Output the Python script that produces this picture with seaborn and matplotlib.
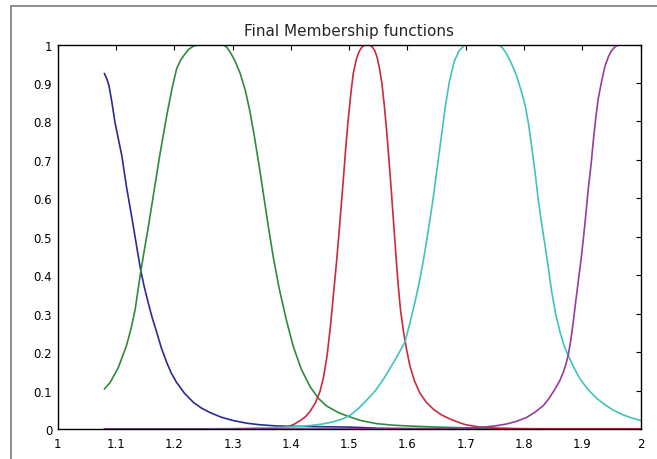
import pandas as pd
import seaborn as sns
from matplotlib import pyplot as plt
from matplotlib.patches import Rectangle

# membership function curves
mf1_x = [1.080, 1.084, 1.088, 1.093, 1.098, 1.104, 1.110, 1.118, 1.124, 1.130, 1.136, 1.142,
         1.148, 1.155, 1.162, 1.170, 1.178, 1.187, 1.195, 1.204, 1.218, 1.233, 1.247, 1.261,
         1.280, 1.301, 1.325, 1.347, 1.375, 1.400, 1.450, 1.500, 1.550, 1.600, 1.700, 1.800,
         1.900, 2.000]
mf1_y = [0.925, 0.912, 0.893, 0.850, 0.800, 0.755, 0.711, 0.630, 0.578, 0.525, 0.470, 0.416,
         0.373, 0.330, 0.290, 0.251, 0.210, 0.173, 0.145, 0.121, 0.092, 0.069, 0.054, 0.043,
         0.031, 0.022, 0.015, 0.011, 0.008, 0.007, 0.006, 0.005, 0.002, 0.001, 0.0, 0.0,
         0.0, 0.0]

mf2_x = [1.080, 1.090, 1.104, 1.118, 1.126, 1.133, 1.142, 1.148, 1.154, 1.164, 1.175, 1.187,
         1.196, 1.204, 1.211, 1.218, 1.225, 1.233, 1.242, 1.284, 1.290, 1.296, 1.304, 1.313,
         1.322, 1.330, 1.338, 1.346, 1.354, 1.362, 1.370, 1.380, 1.392, 1.404, 1.418, 1.433,
         1.447, 1.461, 1.480, 1.496, 1.520, 1.547, 1.575, 1.600, 1.650, 1.700, 1.800, 1.900,
         2.000]
mf2_y = [0.104, 0.121, 0.160, 0.217, 0.262, 0.312, 0.405, 0.460, 0.512, 0.607, 0.711, 0.815,
         0.885, 0.937, 0.960, 0.975, 0.988, 0.996, 1.000, 1.000, 0.993, 0.980, 0.958, 0.925,
         0.880, 0.824, 0.755, 0.680, 0.600, 0.520, 0.445, 0.365, 0.285, 0.215, 0.155, 0.110,
         0.080, 0.060, 0.044, 0.034, 0.022, 0.014, 0.010, 0.008, 0.005, 0.003, 0.001, 0.0,
         0.0]

mf3_x = [1.080, 1.200, 1.300, 1.380, 1.395, 1.405, 1.416, 1.425, 1.433, 1.442, 1.450, 1.456,
         1.462, 1.468, 1.473, 1.478, 1.482, 1.486, 1.490, 1.494, 1.498, 1.503, 1.507, 1.512,
         1.517, 1.522, 1.527, 1.533, 1.539, 1.544, 1.548, 1.552, 1.556, 1.560, 1.564, 1.568,
         1.572, 1.576, 1.580, 1.584, 1.588, 1.593, 1.598, 1.604, 1.612, 1.621, 1.632, 1.644,
         1.658, 1.673, 1.690, 1.700, 1.720, 1.750, 1.800, 1.900, 2.000]
mf3_y = [0.0, 0.0, 0.0, 0.002, 0.006, 0.012, 0.022, 0.032, 0.046, 0.068, 0.098, 0.135,
         0.190, 0.270, 0.350, 0.430, 0.500, 0.575, 0.650, 0.730, 0.800, 0.875, 0.925, 0.960,
         0.982, 0.994, 0.999, 1.000, 0.995, 0.984, 0.966, 0.938, 0.900, 0.845, 0.780, 0.705,
         0.625, 0.540, 0.455, 0.375, 0.310, 0.255, 0.210, 0.165, 0.125, 0.094, 0.070, 0.052,
         0.037, 0.026, 0.016, 0.011, 0.006, 0.002, 0.0, 0.0, 0.0]

mf4_x = [1.080, 1.200, 1.300, 1.380, 1.410, 1.433, 1.455, 1.473, 1.488, 1.501, 1.515, 1.530,
         1.545, 1.559, 1.570, 1.580, 1.588, 1.596, 1.604, 1.612, 1.620, 1.628, 1.636, 1.644,
         1.651, 1.658, 1.665, 1.672, 1.680, 1.688, 1.697, 1.706, 1.755, 1.762, 1.770, 1.778,
         1.787, 1.795, 1.802, 1.808, 1.813, 1.819, 1.824, 1.830, 1.836, 1.842, 1.847, 1.854,
         1.862, 1.869, 1.876, 1.886, 1.896, 1.910, 1.925, 1.940, 1.953, 1.968, 1.982, 2.000]
mf4_y = [0.0, 0.0, 0.001, 0.004, 0.006, 0.009, 0.013, 0.019, 0.026, 0.035, 0.052, 0.075,
         0.100, 0.130, 0.158, 0.183, 0.205, 0.228, 0.275, 0.325, 0.380, 0.445, 0.520, 0.600,
         0.680, 0.760, 0.840, 0.905, 0.955, 0.983, 0.997, 1.000, 1.000, 0.993, 0.976, 0.952,
         0.919, 0.880, 0.841, 0.790, 0.735, 0.665, 0.600, 0.535, 0.477, 0.415, 0.360, 0.300,
         0.250, 0.215, 0.190, 0.158, 0.130, 0.102, 0.079, 0.062, 0.049, 0.038, 0.030, 0.022]

mf5_x = [1.080, 1.300, 1.500, 1.600, 1.700, 1.730, 1.750, 1.770, 1.787, 1.804, 1.818, 1.833,
         1.843, 1.853, 1.861, 1.867, 1.872, 1.876, 1.880, 1.884, 1.888, 1.893, 1.898, 1.902,
         1.906, 1.910, 1.915, 1.919, 1.923, 1.927, 1.933, 1.939, 1.945, 1.950, 1.955, 1.960,
         1.966, 2.000]
mf5_y = [0.0, 0.0, 0.0, 0.001, 0.002, 0.005, 0.008, 0.013, 0.020, 0.030, 0.043, 0.061,
         0.080, 0.104, 0.125, 0.147, 0.170, 0.195, 0.230, 0.275, 0.325, 0.385, 0.445, 0.500,
         0.560, 0.624, 0.690, 0.754, 0.810, 0.858, 0.905, 0.945, 0.970, 0.984, 0.993, 0.998,
         1.000, 1.000]

x_ticks = [1, 1.1, 1.2, 1.3, 1.4, 1.5, 1.6, 1.7, 1.8, 1.9, 2]
x_labels = ['1', '1.1', '1.2', '1.3', '1.4', '1.5', '1.6', '1.7', '1.8', '1.9', '2']
y_ticks = [0, 0.1, 0.2, 0.3, 0.4, 0.5, 0.6, 0.7, 0.8, 0.9, 1]
y_labels = ['0', '0.1', '0.2', '0.3', '0.4', '0.5', '0.6', '0.7', '0.8', '0.9', '1']

curves = {'mf1': (mf1_x, mf1_y), 'mf2': (mf2_x, mf2_y), 'mf3': (mf3_x, mf3_y),
          'mf4': (mf4_x, mf4_y), 'mf5': (mf5_x, mf5_y)}
palette = {'mf1': '#2b2b96', 'mf2': '#2f8a3c', 'mf3': '#c92a40',
           'mf4': '#3fc3bf', 'mf5': '#973c9e'}

frames = []
for name, (xs, ys) in curves.items():
    frames.append(pd.DataFrame({'x': xs, 'y': ys, 'mf': name}))
df = pd.concat(frames, ignore_index=True)

sns.set_style('white')
plt.rcParams['font.family'] = ['DejaVu Sans']

fig = plt.figure(figsize=(6.57, 4.6), dpi=100)
ax = fig.add_axes([0.0878, 0.0652, 0.8874, 0.8357])

sns.lineplot(data=df, x='x', y='y', hue='mf', palette=palette, estimator=None,
             sort=False, legend=False, linewidth=1.2, ax=ax)

ax.set_xlim(1, 2)
ax.set_ylim(0, 1)
ax.set_xticks(x_ticks, x_labels)
ax.set_yticks(y_ticks, y_labels)
ax.set(xlabel=None, ylabel=None)
ax.tick_params(direction='in', length=3.5, width=0.8, colors='black', labelsize=8.5,
               top=True, right=True)
ax.tick_params(axis='x', pad=6)
ax.tick_params(axis='y', pad=4)
for sp in ax.spines.values():
    sp.set_color('black')
    sp.set_linewidth(1.0)
ax.set_title('Final Membership functions', fontsize=11, pad=7)

# grey outer frame of the screenshot
fig.add_artist(Rectangle((0.016, -0.05), 1.2, 1.034, transform=fig.transFigure,
                         fill=False, edgecolor='#7a7a7a', linewidth=1.2))

plt.savefig('out.png', dpi=100)
